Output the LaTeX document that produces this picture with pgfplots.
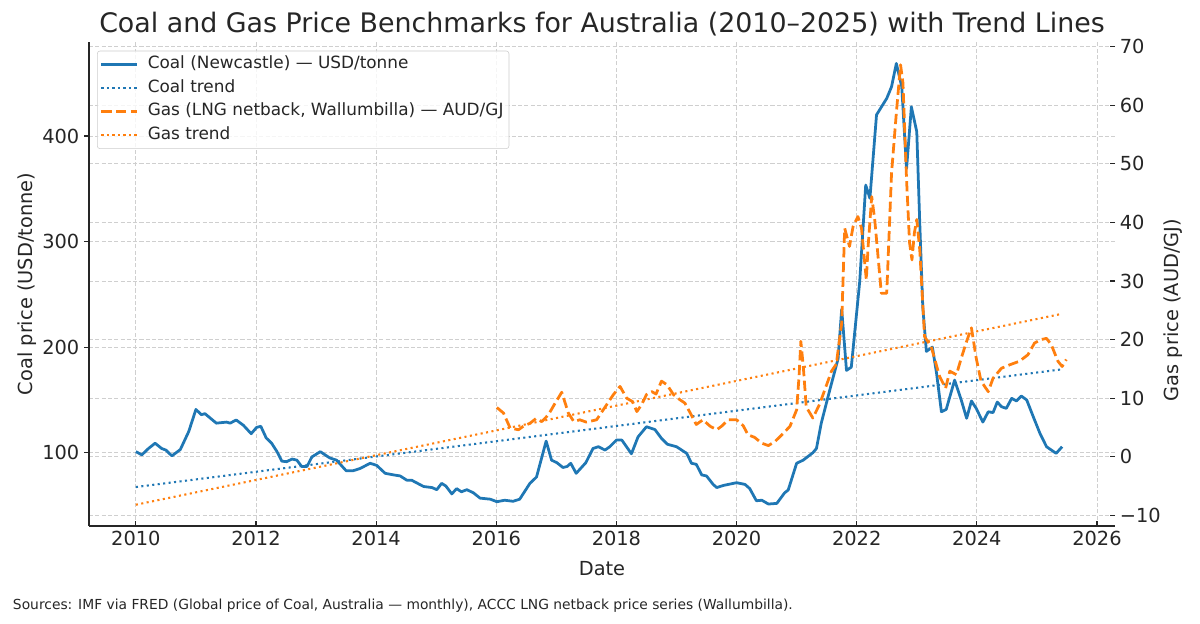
\documentclass[border=0pt]{standalone}
\usepackage{fontspec}
\setmainfont{DejaVu Sans}
\usepackage{pgfplots}
\pgfplotsset{compat=1.18}
\definecolor{tabblue}{HTML}{1F77B4}
\definecolor{taborange}{HTML}{FF7F0E}
\definecolor{txt}{HTML}{262626}
\definecolor{gridc}{HTML}{CFCFCF}
\definecolor{legc}{HTML}{CCCCCC}
\pgfplotsset{
  set layers=standard,
  common/.style={
    at={(0.89in,0.98in)}, anchor=south west,
    scale only axis, width=10.26in, height=4.84in,
    xmin=2009.22, xmax=2026.3,
    major grid style={gridc, line width=0.65pt, dash pattern=on 2.96pt off 1.6pt},
    tick style={txt, line width=0.8pt},
    major tick length=3.5pt,
    tick label style={font=\fontsize{14}{16}\selectfont, text=txt},
    label style={font=\fontsize{14}{16}\selectfont, text=txt},
    axis line style={txt, line width=1.25pt},
  },
  coal/.style={tabblue, line width=2pt, line join=round},
  coaltrend/.style={tabblue, line width=1.5pt, dash pattern=on 1.5pt off 2.475pt},
  gas/.style={taborange, line width=2pt, line join=round, dash pattern=on 7.4pt off 3.2pt},
  gastrend/.style={taborange, line width=1.5pt, dash pattern=on 1.5pt off 2.475pt},
}
\begin{document}
\begin{tikzpicture}
\begin{axis}[common,
  ymin=30.6, ymax=489,
  axis x line*=bottom, axis y line*=left,
  xtick={2010,2012,2014,2016,2018,2020,2022,2024,2026},
  xticklabels={2010,2012,2014,2016,2018,2020,2022,2024,2026},
  ytick={100,200,300,400}, yticklabels={100,200,300,400},
  xtick align=inside, ytick align=outside,
  xmajorgrids, ymajorgrids,
  xlabel={Date}, ylabel={Coal price (USD/tonne)},
  xlabel style={at={(axis description cs:0.5,-0.1033)}, anchor=base},
  ylabel style={at={(axis description cs:-0.0604,0.5)}, anchor=center},
]
\addplot[coal] table {
x y
2010.00 101
2010.10 98
2010.21 104
2010.32 109
2010.43 104
2010.50 102.5
2010.60 97
2010.74 103
2010.88 120
2011.00 141
2011.09 136
2011.15 137
2011.34 128
2011.51 129
2011.57 128
2011.67 131
2011.79 126
2011.92 118
2012.01 124
2012.08 125
2012.17 114
2012.26 109
2012.35 101
2012.43 92
2012.51 91.5
2012.60 94
2012.68 93
2012.76 87
2012.85 87
2012.93 96
2013.07 101
2013.23 95
2013.34 93
2013.50 83
2013.62 83
2013.73 85
2013.90 90
2014.01 88
2014.15 80.5
2014.29 79
2014.40 78
2014.51 74
2014.59 74
2014.79 68
2014.93 67
2015.01 65
2015.09 71
2015.16 68.5
2015.26 61
2015.34 66
2015.42 63
2015.51 65
2015.62 62
2015.73 57
2015.90 56
2016.01 53.6
2016.14 55
2016.28 54
2016.39 56
2016.56 71
2016.67 77
2016.83 111
2016.92 93
2017.01 90.5
2017.11 86
2017.18 87
2017.24 90
2017.33 80.5
2017.49 90.5
2017.61 104
2017.70 105.7
2017.81 102.5
2017.89 105.7
2018.00 112
2018.09 112
2018.25 99
2018.36 115
2018.50 124.6
2018.64 122
2018.75 113.6
2018.85 108
2019.00 105.7
2019.17 99.4
2019.25 90
2019.33 89
2019.42 79
2019.50 78
2019.61 70
2019.67 67
2019.78 69
2020.00 71.6
2020.14 70
2020.22 66
2020.33 54.5
2020.42 55
2020.53 51.4
2020.67 52
2020.80 62
2020.86 64.7
2021.00 90
2021.11 93
2021.27 100
2021.33 104
2021.41 128
2021.55 159
2021.69 189
2021.75 236
2021.83 178
2021.91 181
2022.05 262
2022.15 353.5
2022.22 341
2022.33 420
2022.50 435.6
2022.58 446.6
2022.66 468.7
2022.75 446.6
2022.83 369
2022.91 427.6
2023.00 404
2023.05 317
2023.10 238
2023.16 196
2023.26 200
2023.33 175
2023.41 138.8
2023.49 141
2023.63 168.8
2023.74 150
2023.83 132.6
2023.91 149
2023.99 142
2024.10 129
2024.19 138.8
2024.27 138
2024.34 148
2024.41 143.6
2024.49 142
2024.58 151.5
2024.66 149
2024.74 153.7
2024.83 150
2024.94 134
2025.05 118.4
2025.16 105.7
2025.32 99.4
2025.42 105.7
};
\addplot[coaltrend] coordinates {(2010,67.5) (2025.42,179)};
\end{axis}
\begin{axis}[common,
  ymin=-11.83, ymax=70.8,
  axis x line=none, axis y line*=right,
  y axis line style={draw=none},
  ytick={-10,0,10,20,30,40,50,60,70},
  yticklabels={−10,0,10,20,30,40,50,60,70},
  ytick align=inside,
  ymajorgrids,
  ylabel={Gas price (AUD/GJ)},
  ylabel style={at={(axis description cs:1.0565,0.446)}, anchor=center},
  legend style={at={(axis description cs:0.0078,0.982)}, anchor=north west,
    draw=legc, rounded corners=2pt, fill=white, fill opacity=0.8, text opacity=1,
    font=\fontsize{12.2}{14}\selectfont, text=txt,
    inner xsep=2pt, inner ysep=1.5pt,
    nodes={inner xsep=2pt, inner ysep=2.9pt, text height=8.6pt, text depth=2.5pt},
    /tikz/every odd column/.append style={column sep=4.5pt}},
  legend cell align=left,
  legend image code/.code={\draw[#1] (0pt,0pt) -- (26pt,0pt);},
]
\addlegendimage{coal}
\addlegendentry{Coal (Newcastle) — USD/tonne}
\addlegendimage{coaltrend}
\addlegendentry{Coal trend}
\addplot[gas] table {
x y
2016.01 8.4
2016.12 7.45
2016.23 4.9
2016.37 4.6
2016.45 5.2
2016.56 5.7
2016.66 6.5
2016.76 6.0
2016.87 7.2
2016.98 9.15
2017.09 11.0
2017.20 7.45
2017.29 6.0
2017.39 6.3
2017.50 5.9
2017.67 6.3
2017.78 8.0
2017.95 10.6
2018.06 12.0
2018.17 10.0
2018.27 9.4
2018.34 7.7
2018.42 8.9
2018.50 10.6
2018.59 11.1
2018.66 10.7
2018.75 12.9
2018.84 12.3
2018.95 10.6
2019.06 9.7
2019.14 9.15
2019.23 7.45
2019.33 5.5
2019.44 6.3
2019.56 5.2
2019.67 4.6
2019.75 5.2
2019.86 6.3
2020.00 6.3
2020.11 5.3
2020.19 3.75
2020.30 3.3
2020.42 2.3
2020.53 1.9
2020.64 2.6
2020.78 4.0
2020.89 5.2
2021.00 8.0
2021.04 13.7
2021.07 19.7
2021.11 15.5
2021.16 8.5
2021.27 6.6
2021.38 8.9
2021.50 12.3
2021.58 14.6
2021.66 15.8
2021.75 22.8
2021.80 39
2021.88 35.9
2021.94 39.3
2022.02 41
2022.08 39
2022.16 30.2
2022.19 35.9
2022.25 44.4
2022.30 40.5
2022.41 27.9
2022.50 27.9
2022.58 48.4
2022.66 58.7
2022.73 66.9
2022.77 63.8
2022.83 47.3
2022.88 36.5
2022.92 33.6
2022.96 38.2
2023.00 40.5
2023.05 35.3
2023.13 20.5
2023.24 18.8
2023.38 13.7
2023.48 11.7
2023.55 14.6
2023.66 14.0
2023.74 16.8
2023.83 19.7
2023.91 22.0
2023.99 16.8
2024.07 12.9
2024.19 11.1
2024.27 13.4
2024.41 15.1
2024.55 15.7
2024.71 16.3
2024.85 17.4
2024.96 19.4
2025.07 20.0
2025.16 20.2
2025.24 19.1
2025.35 16.3
2025.42 15.4
2025.49 16.6
};
\addlegendentry{Gas (LNG netback, Wallumbilla) — AUD/GJ}
\addplot[gastrend] coordinates {(2010,-8.2) (2025.42,24.4)};
\addlegendentry{Gas trend}
\end{axis}
\node[anchor=base, font=\fontsize{19.4}{22}\selectfont, text=txt] at (6.02in,5.913in)
  {Coal and Gas Price Benchmarks for Australia (2010–2025) with Trend Lines};
\node[anchor=base west, font=\fontsize{10}{12}\selectfont, text=txt, inner sep=0pt] at (0.127in,0.14in)
  {Sources: IMF via FRED (Global price of Coal, Australia — monthly), ACCC LNG netback price series (Wallumbilla).};
\pgfresetboundingbox
\useasboundingbox (0,0) rectangle (12in,6.24in);
\end{tikzpicture}
\end{document}
